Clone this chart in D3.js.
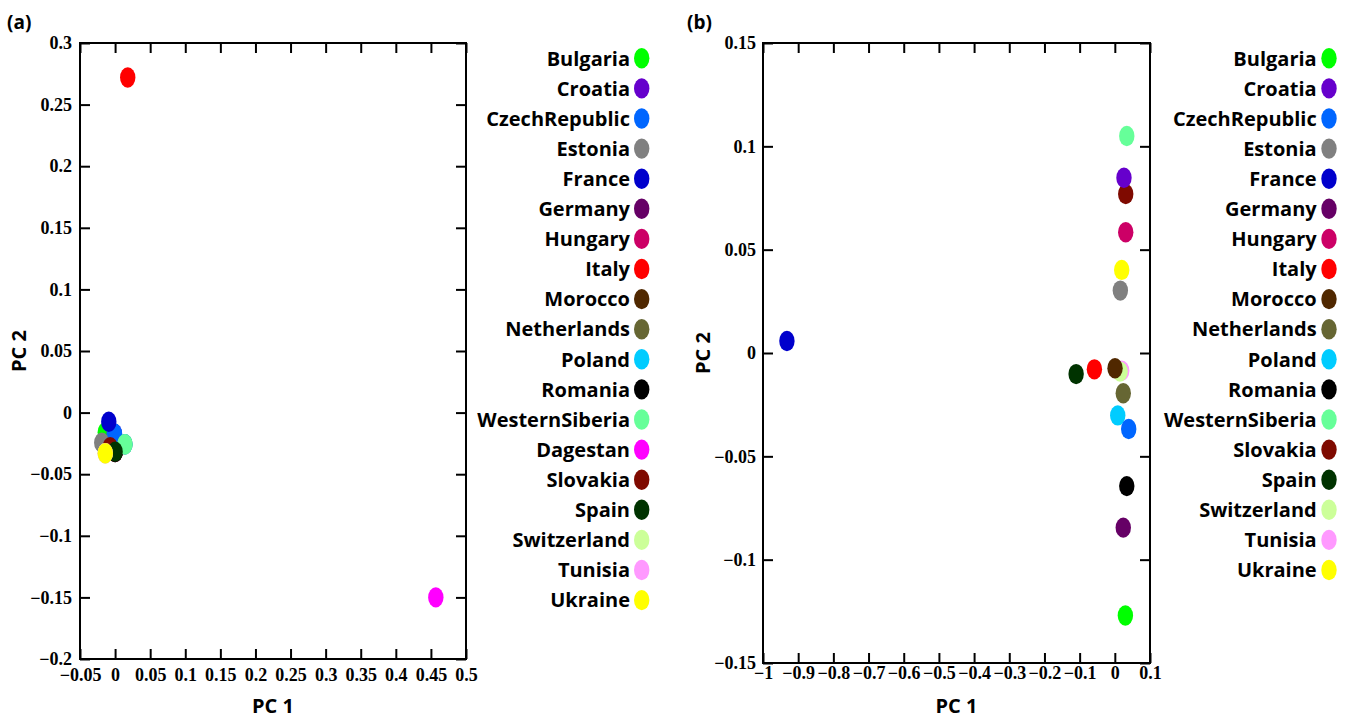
<!DOCTYPE html>
<html>
<head>
<meta charset="utf-8">
<script src="https://cdn.jsdelivr.net/npm/d3@7"></script>
<style>
  body { margin: 0; background: #fff; }
  .tick line { stroke: #000; stroke-width: 2; }
  .lbl { font-family: "Open Sans", sans-serif; font-weight: bold; fill: #000; }
</style>
</head>
<body>
<svg id="chart" width="1346" height="720"></svg>
<script>
// panel (a)
var namesA = ["Bulgaria", "Croatia", "CzechRepublic", "Estonia", "France", "Germany", "Hungary",
  "Italy", "Morocco", "Netherlands", "Poland", "Romania", "WesternSiberia", "Dagestan",
  "Slovakia", "Spain", "Switzerland", "Tunisia", "Ukraine"];
var colorsA = ["#00ff00", "#6600cc", "#0066ff", "#808080", "#0000cc", "#660066", "#cc0066",
  "#ff0000", "#502800", "#666633", "#00ccff", "#000000", "#66ff99", "#ff00ff",
  "#7f0a00", "#003300", "#ccff99", "#ff99ff", "#ffff00"];
var pc1A = [-0.014, -0.001, -0.001, -0.019, -0.009, 0.0, 0.0, 0.018, 0.0, 0.014, 0.014, 0.0,
  0.014, 0.457, -0.007, 0.0, -0.014, -0.014, -0.014];
var pc2A = [-0.016, -0.017, -0.017, -0.0244, -0.0074, -0.032, -0.032, 0.272, -0.032, -0.0257,
  -0.0257, -0.032, -0.0257, -0.15, -0.028, -0.0317, -0.033, -0.033, -0.033];
var xTicksA = [-0.05, 0, 0.05, 0.1, 0.15, 0.2, 0.25, 0.3, 0.35, 0.4, 0.45, 0.5];
var yTicksA = [-0.2, -0.15, -0.1, -0.05, 0, 0.05, 0.1, 0.15, 0.2, 0.25, 0.3];

// panel (b)
var namesB = ["Bulgaria", "Croatia", "CzechRepublic", "Estonia", "France", "Germany", "Hungary",
  "Italy", "Morocco", "Netherlands", "Poland", "Romania", "WesternSiberia",
  "Slovakia", "Spain", "Switzerland", "Tunisia", "Ukraine"];
var colorsB = ["#00ff00", "#6600cc", "#0066ff", "#808080", "#0000cc", "#660066", "#cc0066",
  "#ff0000", "#502800", "#666633", "#00ccff", "#000000", "#66ff99",
  "#7f0a00", "#003300", "#ccff99", "#ff99ff", "#ffff00"];
var pc1B = [0.030, 0.026, 0.0395, 0.0157, -0.932, 0.024, 0.031, -0.058, 0.0006, 0.024, 0.0083,
  0.034, 0.034, 0.031, -0.110, 0.015, 0.0196, 0.0196];
var pc2B = [-0.127, 0.0848, -0.0368, 0.0302, 0.0058, -0.0845, 0.0584, -0.0079, -0.0074, -0.0195,
  -0.0302, -0.0644, 0.105, 0.0769, -0.0102, -0.009, -0.0086, 0.0402];
var xTicksB = [-1, -0.9, -0.8, -0.7, -0.6, -0.5, -0.4, -0.3, -0.2, -0.1, 0, 0.1];
var yTicksB = [-0.15, -0.1, -0.05, 0, 0.05, 0.1, 0.15];

var svg = d3.select("#chart");
var fmt = d3.format("~g");

function drawPanel(p) {
  var x = d3.scaleLinear().domain([p.xTicks[0], p.xTicks[p.xTicks.length - 1]]).range([p.left, p.right]);
  var y = d3.scaleLinear().domain([p.yTicks[0], p.yTicks[p.yTicks.length - 1]]).range([p.bottom, p.top]);
  var g = svg.append("g");

  g.append("g").attr("transform", "translate(0," + p.bottom + ")")
    .call(d3.axisBottom(x).tickValues(p.xTicks).tickSizeInner(-10).tickSizeOuter(0)
      .tickPadding(p.xPad).tickFormat(fmt));
  g.append("g").attr("transform", "translate(0," + p.top + ")")
    .call(d3.axisTop(x).tickValues(p.xTicks).tickSizeInner(-10).tickSizeOuter(0).tickFormat(""));
  g.append("g").attr("transform", "translate(" + p.left + ",0)")
    .call(d3.axisLeft(y).tickValues(p.yTicks).tickSizeInner(-10).tickSizeOuter(0)
      .tickPadding(p.yPad).tickFormat(fmt));
  g.append("g").attr("transform", "translate(" + p.right + ",0)")
    .call(d3.axisRight(y).tickValues(p.yTicks).tickSizeInner(-10).tickSizeOuter(0).tickFormat(""));
  g.selectAll(".domain").remove();
  g.selectAll(".tick text")
    .style("font-family", "'Liberation Serif', 'Times New Roman', serif")
    .style("font-weight", "bold")
    .style("font-size", "18px")
    .style("fill", "#000");

  g.append("rect")
    .attr("x", p.left).attr("y", p.top)
    .attr("width", p.right - p.left).attr("height", p.bottom - p.top)
    .attr("fill", "none").attr("stroke", "#000").attr("stroke-width", 2);

  var idx = d3.range(p.names.length);
  if (p.reverse) idx.reverse();
  g.selectAll("ellipse.pt").data(idx).enter().append("ellipse")
    .attr("class", "pt")
    .attr("cx", function(i) { return x(p.pc1[i]); })
    .attr("cy", function(i) { return y(p.pc2[i]); })
    .attr("rx", 7.7).attr("ry", 10.2)
    .attr("fill", function(i) { return p.colors[i]; });

  // legend
  var leg = g.selectAll("g.leg").data(p.names).enter().append("g")
    .attr("class", "leg")
    .attr("transform", function(d, i) { return "translate(0," + (p.legTop + i * 30.1) + ")"; });
  leg.append("text").attr("class", "lbl")
    .attr("x", p.legText).attr("dy", "0.36em")
    .attr("text-anchor", "end").style("font-size", "20px")
    .text(function(d) { return d; });
  leg.append("ellipse")
    .attr("cx", p.legDot).attr("rx", 7.7).attr("ry", 10.2)
    .attr("fill", function(d, i) { return p.colors[i]; });

  g.append("text").attr("class", "lbl").style("font-size", "20px")
    .attr("x", (p.left + p.right) / 2).attr("y", 713).attr("text-anchor", "middle")
    .text("PC 1");
  g.append("text").attr("class", "lbl").style("font-size", "20px")
    .attr("transform", "translate(" + p.yTitleX + "," + ((p.top + p.bottom) / 2) + ") rotate(-90)")
    .attr("text-anchor", "middle")
    .text("PC 2");
  g.append("text").attr("class", "lbl").style("font-size", "19px")
    .attr("x", p.tagX).attr("y", 29)
    .text(p.tag);
}

drawPanel({
  tag: "(a)", tagX: 7, names: namesA, colors: colorsA, pc1: pc1A, pc2: pc2A,
  xTicks: xTicksA, yTicks: yTicksA,
  left: 80, right: 466, top: 43, bottom: 659, xPad: 9, yPad: 8,
  legTop: 58.3, legText: 630, legDot: 641.7, yTitleX: 26, reverse: false
});
drawPanel({
  tag: "(b)", tagX: 687, names: namesB, colors: colorsB, pc1: pc1B, pc2: pc2B,
  xTicks: xTicksB, yTicks: yTicksB,
  left: 763, right: 1150, top: 43, bottom: 663, xPad: 3, yPad: 7,
  legTop: 58.3, legText: 1316.7, legDot: 1329, yTitleX: 710, reverse: true
});
</script>
</body>
</html>
